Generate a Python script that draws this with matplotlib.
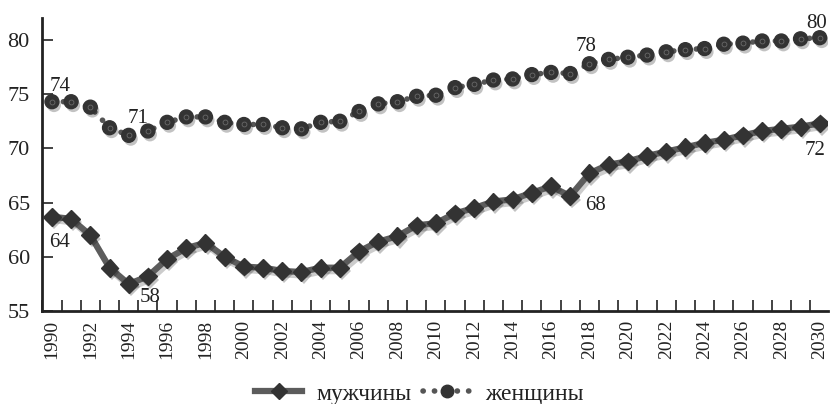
import matplotlib
matplotlib.use('Agg')
import matplotlib.pyplot as plt
import matplotlib.patheffects as pe
from matplotlib.ticker import MultipleLocator

plt.rcParams['font.family'] = ['Liberation Serif', 'DejaVu Serif']

years = list(range(1990, 2031))

men = [63.7, 63.5, 62.0, 59.0, 57.5, 58.2, 59.8, 60.8, 61.3, 60.0,
       59.1, 59.0, 58.7, 58.6, 59.0, 59.0, 60.5, 61.4, 61.9, 62.9,
       63.1, 64.0, 64.5, 65.1, 65.3, 65.9, 66.5, 65.6, 67.7, 68.5,
       68.8, 69.3, 69.7, 70.1, 70.5, 70.8, 71.2, 71.6, 71.8, 72.0, 72.3]

women = [74.3, 74.3, 73.8, 71.9, 71.2, 71.6, 72.4, 72.9, 72.9, 72.4,
         72.2, 72.2, 71.9, 71.8, 72.4, 72.5, 73.4, 74.1, 74.3, 74.8,
         74.9, 75.6, 75.9, 76.3, 76.4, 76.8, 77.0, 76.9, 77.8, 78.2,
         78.4, 78.6, 78.9, 79.1, 79.2, 79.6, 79.7, 79.9, 79.9, 80.1, 80.2]

# labelled points: (year, text, dx, dy) offsets in points
men_labels = [(1990, '64', -2, -22), (1994, '58', 8, -13), (2017, '68', 11, -10), (2030, '72', -11, -22.5)]
women_labels = [(1990, '74', -2, 7.5), (1994, '71', -1, 9), (2018, '78', -10, 9.5), (2030, '80', -9.5, 7)]

fig = plt.figure(figsize=(8.3, 4.04), dpi=100)
ax = fig.add_axes([0.051, 0.23, 0.947, 0.725])

mark_shadow = [pe.SimplePatchShadow(offset=(1.5, -2.5), alpha=0.25), pe.Normal()]
line_shadow = [pe.SimpleLineShadow(offset=(1.5, -2.5), alpha=0.2), pe.Normal()]

# men: thick grey line with dark diamonds
ax.plot(years, men, color='#5c5c5c', lw=4.5, zorder=2, path_effects=line_shadow)
ax.plot(years, men, ls='none', marker='D', ms=9, mfc='#333333', mec='#333333',
        zorder=3, path_effects=mark_shadow)

# women: dotted line with dark circles
ax.plot(years, women, color='#555555', lw=4, ls=(0, (0.05, 2.0)),
        dash_capstyle='round', zorder=2)
ax.plot(years, women, ls='none', marker='o', ms=10, mfc='#333333', mec='#333333',
        zorder=3, path_effects=mark_shadow)
ax.plot(years, women, ls='none', marker='o', ms=3.5, mfc='none', mec='#6a6a6a',
        mew=0.6, zorder=4)

for yr, txt, dx, dy in men_labels:
    ax.annotate(txt, (yr, men[years.index(yr)]), xytext=(dx, dy),
                textcoords='offset points', fontsize=15, color='#222222')
for yr, txt, dx, dy in women_labels:
    ax.annotate(txt, (yr, women[years.index(yr)]), xytext=(dx, dy),
                textcoords='offset points', fontsize=15, color='#222222')

ax.set_xlim(1989.5, 2030.45)
ax.set_ylim(55, 82)
ax.set_yticks([55, 60, 65, 70, 75, 80])
ax.set_xticks(years[::2])
ax.set_xticklabels([str(y) for y in years[::2]], rotation=90)
ax.xaxis.set_minor_locator(MultipleLocator(1, offset=0.5))
ax.tick_params(axis='x', which='major', length=0, labelsize=14, pad=6, colors='#222222')
ax.tick_params(axis='x', which='minor', direction='in', length=8, width=1.2, color='#222222')
ax.tick_params(axis='y', direction='in', length=8, width=1.2, labelsize=16, pad=9, colors='#222222')

for s in ['top', 'right']:
    ax.spines[s].set_visible(False)
ax.spines['left'].set_linewidth(2)
ax.spines['bottom'].set_linewidth(2)
ax.spines['left'].set_color('#222222')
ax.spines['bottom'].set_color('#222222')

h1, = ax.plot([], [], color='#5c5c5c', lw=4.5, marker='D', ms=8, mfc='#333333', mec='#333333')
h2, = ax.plot([], [], color='#555555', lw=4, ls=(0, (0.05, 2.0)), dash_capstyle='round',
              marker='o', ms=9, mfc='#333333', mec='#333333')
fig.legend([h1, h2], ['мужчины', 'женщины'], loc='center', bbox_to_anchor=(0.505, 0.025),
           ncol=2, frameon=False, fontsize=17, handlelength=2.0, columnspacing=0.5,
           handletextpad=0.6, labelcolor='#222222')

fig.savefig('out.png', dpi=100)
